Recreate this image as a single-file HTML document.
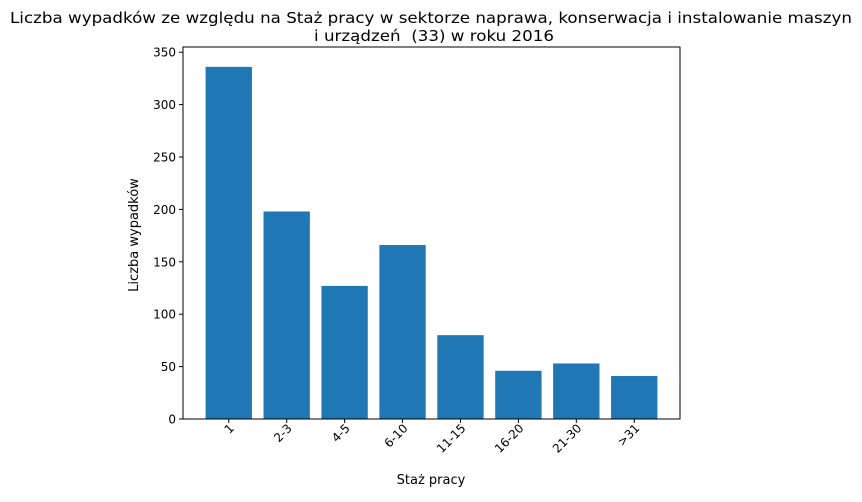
<!DOCTYPE html>
<html><head><meta charset="utf-8"><style>
body{margin:0;background:#fff;font-family:"Liberation Sans","DejaVu Sans",sans-serif;}
svg text{font-family:"DejaVu Sans","Liberation Sans",sans-serif;fill:#000;}
</style></head><body>
<svg id="chart" width="862" height="497" viewBox="0 0 862 497">
<text x="431" y="23" font-size="15" text-anchor="middle" textLength="842" lengthAdjust="spacingAndGlyphs">Liczba wypadków ze względu na Staż pracy w sektorze naprawa, konserwacja i instalowanie maszyn</text>
<text x="434" y="41" font-size="15" text-anchor="middle" textLength="240" lengthAdjust="spacingAndGlyphs" xml:space="preserve">i urządzeń  (33) w roku 2016</text>
<g id="bars"></g>
<g id="yticks"></g>
<g id="xticks"></g>
<rect x="183" y="47" width="497" height="372" fill="none" stroke="#000" stroke-width="1"/>
<text x="431" y="484" font-size="13" text-anchor="middle">Staż pracy</text>
<text transform="translate(138,235) rotate(-90)" font-size="13" text-anchor="middle">Liczba wypadków</text>
</svg>
<script>
const categories = ["1","2-3","4-5","6-10","11-15","16-20","21-30",">31"];
const values = [336,198,127,166,80,46,53,41];
const yTicks = [0,50,100,150,200,250,300,350];
const NS="http://www.w3.org/2000/svg";
const L=183,R=680,B=419;
function yScale(v){return B - v*1.048;}
const xmin=-0.79,xmax=categories.length-1+0.79;
function xScale(i){return L+(i-xmin)/(xmax-xmin)*(R-L);}
const bw=0.8*(R-L)/(xmax-xmin);
const gb=document.getElementById('bars'),gy=document.getElementById('yticks'),gx=document.getElementById('xticks');
values.forEach((v,i)=>{
 const r=document.createElementNS(NS,'rect');
 r.setAttribute('x',xScale(i)-bw/2);r.setAttribute('y',yScale(v));
 r.setAttribute('width',bw);r.setAttribute('height',B-yScale(v));
 r.setAttribute('fill','#1f77b4');
 
 
 gb.appendChild(r);
 const x=xScale(i);
 const t=document.createElementNS(NS,'line');
 t.setAttribute('x1',x);t.setAttribute('x2',x);t.setAttribute('y1',B);t.setAttribute('y2',B+4);t.setAttribute('stroke','#000');
 
 
 gx.appendChild(t);
 const tx=document.createElementNS(NS,'text');
 tx.setAttribute('font-size','12');tx.setAttribute('text-anchor','end');
 tx.setAttribute('transform','translate('+(x+6)+','+(B+10)+') rotate(-45)');
 tx.textContent=categories[i];
 
 
 gx.appendChild(tx);
});
yTicks.forEach(v=>{
 const y=yScale(v);
 const t=document.createElementNS(NS,'line');
 t.setAttribute('x1',L-4);t.setAttribute('x2',L);t.setAttribute('y1',y);t.setAttribute('y2',y);t.setAttribute('stroke','#000');
 
 
 gy.appendChild(t);
 const tx=document.createElementNS(NS,'text');
 tx.setAttribute('x',L-7);tx.setAttribute('y',y+4.5);tx.setAttribute('font-size','12');tx.setAttribute('text-anchor','end');
 tx.textContent=v;
 
 
 gy.appendChild(tx);
});
</script>
</body></html>
